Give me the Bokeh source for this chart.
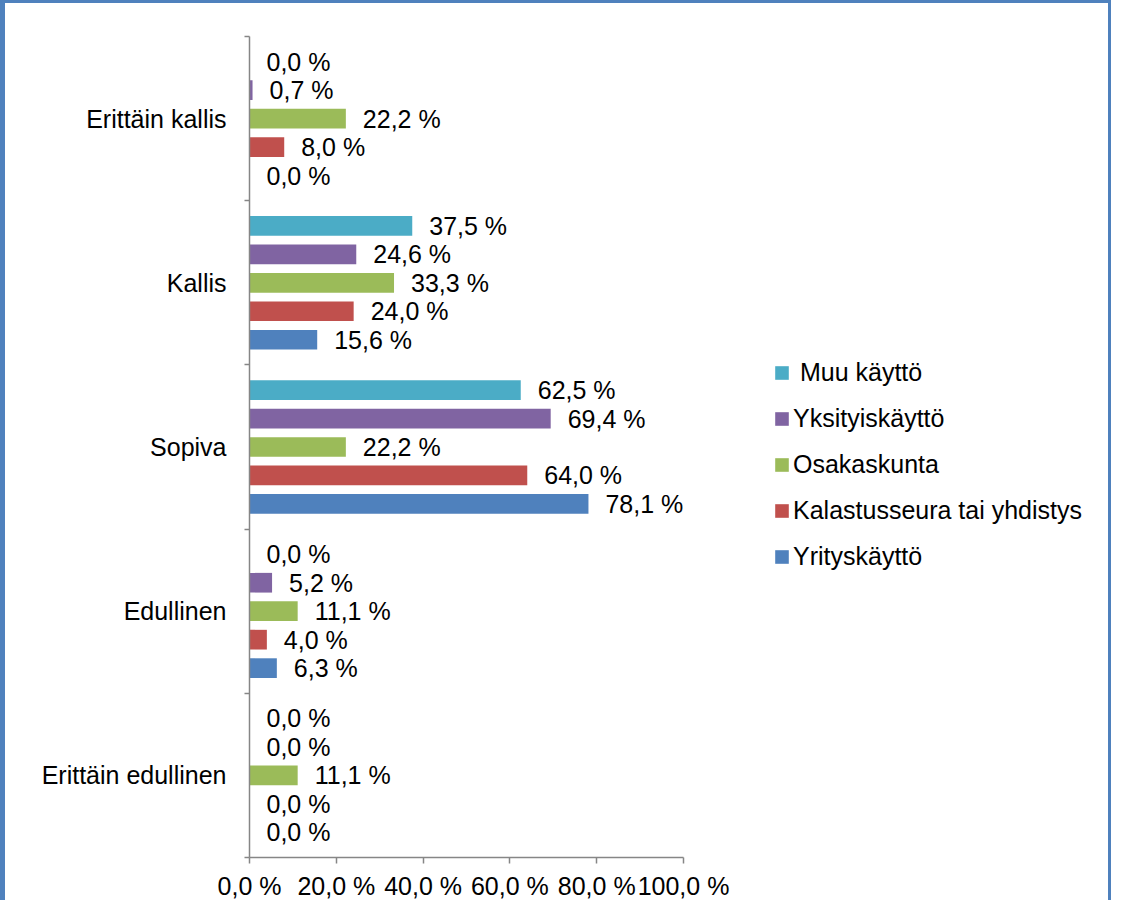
from bokeh.plotting import figure
from bokeh.models import (ColumnDataSource, Range1d, FixedTicker, Legend, LegendItem,
                          CustomJSTickFormatter)
from bokeh.embed import file_html
from bokeh.resources import INLINE
from bokeh.core.properties import value

# ---- data (top-to-bottom order as in the chart) ----
categories = ["Erittäin kallis", "Kallis", "Sopiva", "Edullinen", "Erittäin edullinen"]
series = [" Muu käyttö", "Yksityiskäyttö", "Osakaskunta", "Kalastusseura tai yhdistys", "Yrityskäyttö"]
muu = [0.0, 37.5, 62.5, 0.0, 0.0]
yksityis = [0.7, 24.6, 69.4, 5.2, 0.0]
osakas = [22.2, 33.3, 22.2, 11.1, 11.1]
kalastus = [8.0, 24.0, 64.0, 4.0, 0.0]
yritys = [0.0, 15.6, 78.1, 6.3, 0.0]
colors = ["#4BACC6", "#8064A2", "#9BBB59", "#C0504D", "#4F81BD"]
x_ticks = [0, 20, 40, 60, 80, 100]

values_list = [muu, yksityis, osakas, kalastus, yritys]

FONT = "Liberation Sans"
FS = "25px"
PX_PER_UNIT = 4.34
W, H = 1111, 900
LEFT, RIGHT, TOP, BOTTOM = 244, 10, 33, 46
frame_w = W - LEFT - RIGHT

n = len(categories)
centers = [n - 1 - i + 0.5 for i in range(n)]
step = 0.1734
bar_h = 0.12

p = figure(width=W, height=H, output_backend="svg", toolbar_location=None,
           x_range=Range1d(0, frame_w / PX_PER_UNIT), y_range=Range1d(0, n),
           min_border_left=LEFT, min_border_right=RIGHT,
           min_border_top=TOP, min_border_bottom=BOTTOM)
p.outline_line_color = None
p.xgrid.visible = False
p.ygrid.visible = False
p.background_fill_color = "white"
p.border_fill_color = "white"
p.styles = {"border-left": "5px solid #4F81BD", "border-top": "3px solid #4F81BD",
            "border-right": "3px solid #4F81BD"}

renderers = []
for j, (name, vals, col) in enumerate(zip(series, values_list, colors)):
    ys = [c + (2 - j) * step for c in centers]
    src = ColumnDataSource(dict(y=ys, v=vals,
                                lab=[f"{v:.1f}".replace(".", ",") + " %" for v in vals]))
    r = p.hbar(y="y", right="v", left=0, height=bar_h, source=src,
               fill_color=col, line_color=None)
    renderers.append(r)
    p.text(x="v", y="y", text="lab", source=src, x_offset=17,
           text_baseline="middle", text_align="left",
           text_font=value(FONT), text_font_size=FS, text_color="black")

# x axis
xa = p.xaxis[0]
xa.ticker = FixedTicker(ticks=x_ticks, minor_ticks=[])
xa.bounds = (0, 100)
xa.formatter = CustomJSTickFormatter(code="return tick.toFixed(1).replace('.', ',') + ' %';")
xa.axis_line_color = "#868686"
xa.axis_line_width = 1.5
xa.major_tick_line_color = "#868686"
xa.major_tick_line_width = 1.5
xa.major_tick_in = 0
xa.major_tick_out = 6
xa.minor_tick_line_color = None
xa.major_label_text_font = FONT
xa.major_label_text_font_size = FS
xa.major_label_text_color = "black"
xa.major_label_standoff = 8

# y axis
ya = p.yaxis[0]
ya.ticker = FixedTicker(ticks=centers, minor_ticks=list(range(n + 1)))
ya.formatter = CustomJSTickFormatter(args=dict(names=categories),
                                     code="return names[names.length - 1 - Math.floor(tick)];")
ya.axis_line_color = "#868686"
ya.axis_line_width = 1.5
ya.major_tick_line_color = None
ya.major_tick_in = 0
ya.major_tick_out = 0
ya.minor_tick_line_color = "#868686"
ya.minor_tick_line_width = 1.5
ya.minor_tick_in = 0
ya.minor_tick_out = 5
ya.major_label_text_font = FONT
ya.major_label_text_font_size = FS
ya.major_label_text_color = "black"
ya.major_label_standoff = 18

legend = Legend(items=[LegendItem(label=s, renderers=[r]) for s, r in zip(series, renderers)],
                location=(524, 286), orientation="vertical")
legend.label_text_font = FONT
legend.label_text_font_size = FS
legend.label_text_color = "black"
legend.glyph_width = 17
legend.glyph_height = 17
legend.label_standoff = 3
legend.label_height = 30
legend.spacing = 16
legend.padding = 0
legend.margin = 0
legend.border_line_color = None
legend.background_fill_alpha = 0
p.add_layout(legend)

open("out.html", "w").write(file_html(p, INLINE))
